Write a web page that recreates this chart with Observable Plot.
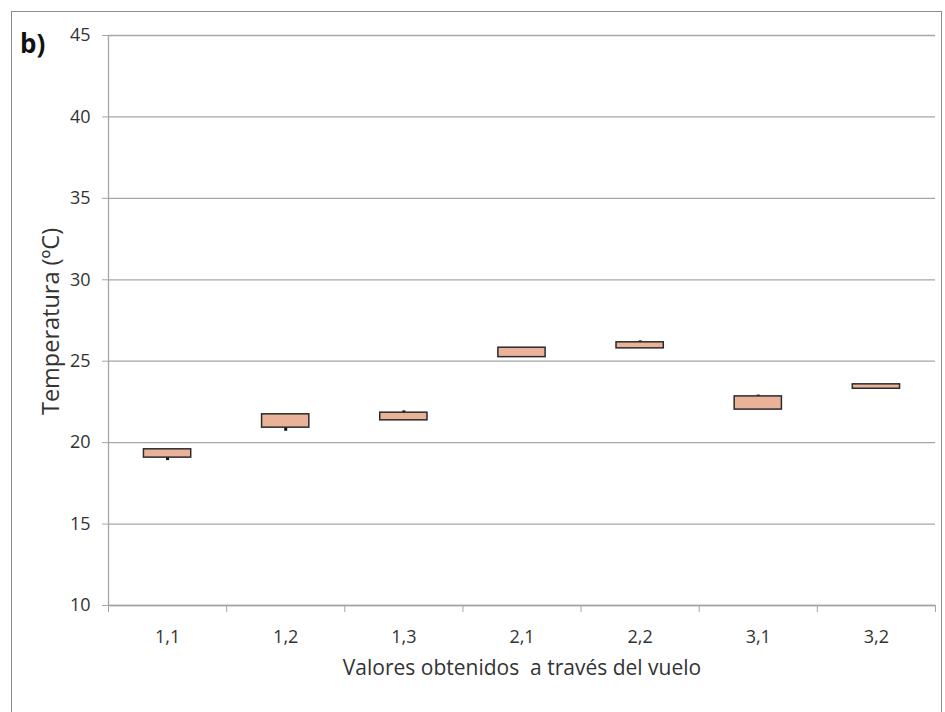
<!DOCTYPE html>
<html><head><meta charset="utf-8">
<script src="https://cdn.jsdelivr.net/npm/d3@7"></script>
<script src="https://cdn.jsdelivr.net/npm/@observablehq/plot@0.6"></script>
<style>
body{margin:0;background:#fff;}
#wrap{position:relative;width:945px;height:712px;overflow:hidden;font-family:"Open Sans",sans-serif;}
#border{position:absolute;left:11px;top:11px;width:929px;height:720px;border:1px solid #8c8c8c;pointer-events:none;}
#tag{position:absolute;left:20px;top:25px;font:bold 26px "Open Sans",sans-serif;color:#111;}
#chart{position:absolute;left:0;top:0;}
#chart svg g[aria-label$="tick label"] text, #chart svg g[aria-label$="tick label"]{font-size:18px;}
</style></head><body><div id="wrap"><div id="chart"></div><div id="border"></div><div id="tag">b)</div></div>
<script>
const categories = ["1,1","1,2","1,3","2,1","2,2","3,1","3,2"];
const boxLow = [19.08, 20.92, 21.37, 25.25, 25.79, 22.03, 23.31];
const boxHigh = [19.59, 21.74, 21.84, 25.83, 26.16, 22.84, 23.58];
const whiskerLow = [18.9, 20.7, 21.37, 25.25, 25.79, 22.03, 23.31];
const whiskerHigh = [19.59, 21.74, 21.95, 25.83, 26.25, 22.92, 23.58];
const yTicks = [10,15,20,25,30,35,40,45];
const yLabel = "Temperatura (ºC)";
const xLabel = "Valores obtenidos  a través del vuelo";

const data = categories.map((c,i)=>({c, i, lo: boxLow[i], hi: boxHigh[i], wl: whiskerLow[i], wh: whiskerHigh[i]}));
const chart = Plot.plot({
  width:945, height:712, marginLeft:108, marginRight:10, marginTop:35, marginBottom:107,
  style:{fontFamily:"'Open Sans', sans-serif", fontSize:"18px", color:"#333", background:"transparent"},
  x:{type:"linear", domain:[0,7]},
  y:{domain:[10,45]},
  marks:[
    Plot.gridY(yTicks,{stroke:"#a6a6a6", strokeOpacity:1, strokeWidth:1.3}),
    Plot.ruleX([0],{stroke:"#a6a6a6", strokeWidth:1.3}),
    Plot.axisY(yTicks,{tickSize:6, stroke:"#a6a6a6", tickPadding:12, label:null, fontSize:18, fill:"#333"}),
    Plot.axisX(d3.range(8), {tickSize:7, tickFormat:()=>"", stroke:"#a6a6a6", label:null}),
    Plot.axisX(data.map(d=>d.i+0.5), {tickSize:0, tickPadding:25, tickFormat:v=>categories[Math.floor(v)], label:null, fontSize:18, fill:"#333"}),
    Plot.text([yLabel], {frameAnchor:"left", textAnchor:"middle", rotate:-90, dx:-57, dy:1, fontSize:23.5, fill:"#333"}),
    Plot.text([xLabel], {frameAnchor:"bottom", dy:69, fontSize:21, fill:"#333"}),
    Plot.ruleY([10], {stroke:"#a6a6a6", strokeWidth:1.3}),
    Plot.ruleX(data, {x: d=>d.i+0.5, y1:"wl", y2:"wh", stroke:"#111", strokeWidth:3}),
    Plot.rect(data, {x1:d=>d.i+0.3, x2:d=>d.i+0.7, y1:"lo", y2:"hi", fill:"#ebb29a", stroke:"#2b2b2b", strokeWidth:1.5})
  ]
});
document.getElementById("chart").appendChild(chart);
</script>
</body></html>
